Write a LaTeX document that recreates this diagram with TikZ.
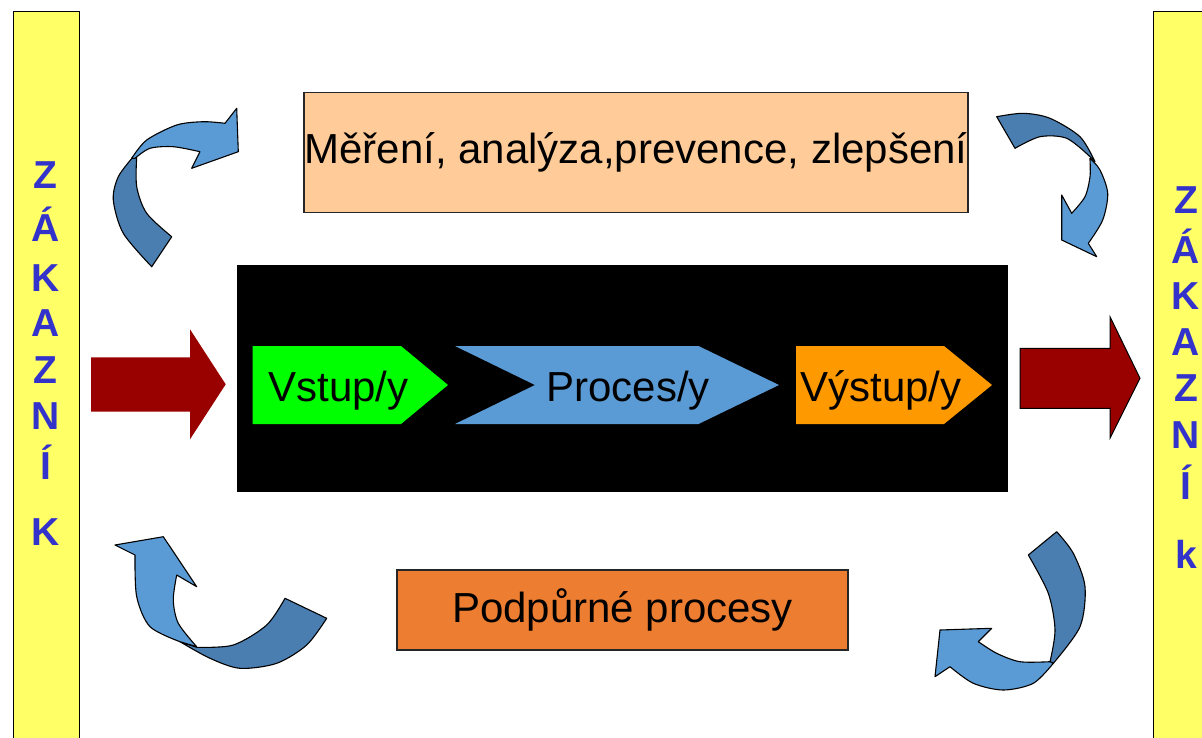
\documentclass[tikz,border=0pt]{standalone}
\usepackage{fontspec}
\setmainfont{Liberation Sans}
\definecolor{baryellow}{HTML}{FFFF66}
\definecolor{letterblue}{HTML}{3333CC}
\definecolor{peach}{HTML}{FFCC99}
\definecolor{boxorange}{HTML}{ED7D31}
\definecolor{ingreen}{HTML}{00FF00}
\definecolor{procblue}{HTML}{5B9BD5}
\definecolor{outorange}{HTML}{FF9900}
\definecolor{darkred}{HTML}{990000}
\definecolor{lightarrow}{HTML}{5B9BD5}
\definecolor{darkarrow}{HTML}{4A7EB0}
\begin{document}
\begin{tikzpicture}[x=1pt,y=-1pt,
  bar/.style={fill=baryellow,draw=black,line width=1pt},
  letter/.style={anchor=base,text=letterblue,font=\fontsize{39}{39}\selectfont\bfseries},
  topbox/.style={fill=peach,draw=black!85,line width=1.3pt,minimum width=664pt,minimum height=120pt,inner sep=0pt,font=\fontsize{42}{42}\selectfont},
  botbox/.style={fill=boxorange,draw=black!85,line width=1.3pt,minimum width=451pt,minimum height=80pt,inner sep=0pt,font=\fontsize{42}{42}\selectfont},
  shapetext/.style={anchor=base,font=\fontsize{42}{42}\selectfont},
  redarrow/.style={fill=darkred},
  curvlight/.style={fill=lightarrow,draw=black,line width=1.1pt,line join=round},
  curvdark/.style={fill=darkarrow,draw=black,line width=1.1pt,line join=round}]
\useasboundingbox (0,0) rectangle (1202,737);
\fill[white] (0,0) rectangle (1202,737);
% side bars
\begin{scope}
\clip (0,0) rectangle (1202,737);
\path[bar] (13,11) rectangle (79,760);
\path[bar] (1153,11) rectangle (1230,760);
\end{scope}
% letters
\foreach \ch/\yy [count=\i] in {Z/188.5,Á/241,K/291,A/336,Z/383,N/429,Í/479,K/545}
  \node[letter] (l\i) at (45.5,\yy) {\ch};
\foreach \ch/\yy [count=\i] in {Z/213,Á/263,K/309,A/355,Z/401,N/448,Í/499,k/568}
  \node[letter] (r\i) at (1186,\yy) {\ch};
% top and bottom boxes
\node[topbox] (meas) at (636,152.7) {Měření, analýza,prevence, zlepšení};
\node[botbox] (supp) at (622.5,610) {Podpůrné procesy};
% black process area
\fill[black] (237,265) rectangle (1008,492);
\coordinate (blk) at (622.5,378.5);
% chevrons
\fill[ingreen] (252.7,346) -- (401,346) -- (448,385) -- (401,424) -- (252.7,424) -- cycle;
\fill[procblue] (455,346) -- (698.5,346) -- (779,385) -- (698.5,424) -- (455,424) -- (535,385) -- cycle;
\fill[outorange] (796,346) -- (944,346) -- (992,385) -- (944,424) -- (796,424) -- cycle;
\node[shapetext] (vst) at (338.5,401.7) {Vstup/y};
\node[shapetext] (proc) at (628,401.7) {Proces/y};
\node[shapetext] (vyst) at (881,401.7) {Výstup/y};
% red arrows
\fill[redarrow] (91,357.3) -- (190,357.3) -- (190,329.3) -- (225.7,384.3) -- (190,439.3) -- (190,411.7) -- (91,411.7) -- cycle;
\filldraw[redarrow,draw=black,line width=1pt] (1020,348.3) -- (1110,348.3) -- (1110,316.7) -- (1140,378.3) -- (1110,438.3) -- (1110,408.3) -- (1020,408.3) -- cycle;
% top-left curved arrow
\filldraw[curvdark] plot[smooth] coordinates {(133.3,156.7) (118.3,176.7) (113.3,200) (123.3,233.3) (151.7,266.7)}
  -- (171.7,236.7) -- plot[smooth] coordinates {(171.7,236.7) (146.7,213.3) (136.7,186.7) (136.7,156.7)} -- cycle;
\filldraw[curvlight] plot[smooth] coordinates {(131.7,158.3) (146.7,140) (176.7,125) (203.3,121.7) (225,123.3)}
  -- (236.7,108.3) -- (238.3,151.7) -- (191.7,168.3) -- (200,151.7)
  -- plot[smooth] coordinates {(200,151.7) (173.3,146.7) (150,148.3) (135,158.3)} -- cycle;
% top-right curved arrow
\filldraw[curvdark] (996.7,116.7) -- (1015,148.3)
  -- plot[smooth] coordinates {(1015,148.3) (1040,136.7) (1066.7,138.3) (1090,156.7)}
  -- plot[smooth] coordinates {(1095,161.7) (1080,136.7) (1050,118.3) (1023.3,113.3) (996.7,116.7)} -- cycle;
\filldraw[curvlight] plot[smooth] coordinates {(1090,158.3) (1100,170) (1107.7,193.3) (1102.7,220) (1088.3,243.3)}
  -- (1096.7,256.7) -- (1061.7,240) -- (1061.7,195) -- (1071.7,213.3)
  -- plot[smooth] coordinates {(1071.7,213.3) (1085,196.7) (1090,176.7) (1090,160)} -- cycle;
% bottom-left curved arrow
\filldraw[curvdark] plot[smooth] coordinates {(180,641.7) (210,658.3) (240,668.3) (276.7,663.3) (306.7,645) (326.7,618.3)}
  -- (285,598.3) -- plot[smooth] coordinates {(285,598.3) (266.7,625) (233.3,645) (196.7,647.3)} -- cycle;
\filldraw[curvlight] (135,555) -- (115,545) -- (163.3,536.7) -- (196.7,586.7) -- (176.7,575)
  -- plot[smooth] coordinates {(176.7,575) (173.3,600) (178.3,623.3) (196.7,646.7)}
  -- plot[smooth] coordinates {(180,641.7) (150,626.7) (136.7,596.7) (135,555)} -- cycle;
% bottom-right curved arrow
\filldraw[curvdark] (1028.3,555) -- (1056.7,531.7)
  -- plot[smooth] coordinates {(1056.7,531.7) (1073.3,553.3) (1085,586.7) (1080,626.7) (1053.3,663.3)}
  -- plot[smooth] coordinates {(1050,661.7) (1055,630) (1048.3,593.3) (1028.3,555)} -- cycle;
\filldraw[curvlight] (978.3,641.7) -- (991.7,628.3) -- (940,630) -- (935,676.7) -- (950,666.7)
  -- plot[smooth] coordinates {(950,666.7) (973.3,683.3) (1003.3,690) (1033.3,683.3) (1053.3,663.3)}
  -- plot[smooth] coordinates {(1050,661.7) (1020,661.7) (996.7,653.3) (978.3,641.7)} -- cycle;
\end{tikzpicture}
\end{document}
